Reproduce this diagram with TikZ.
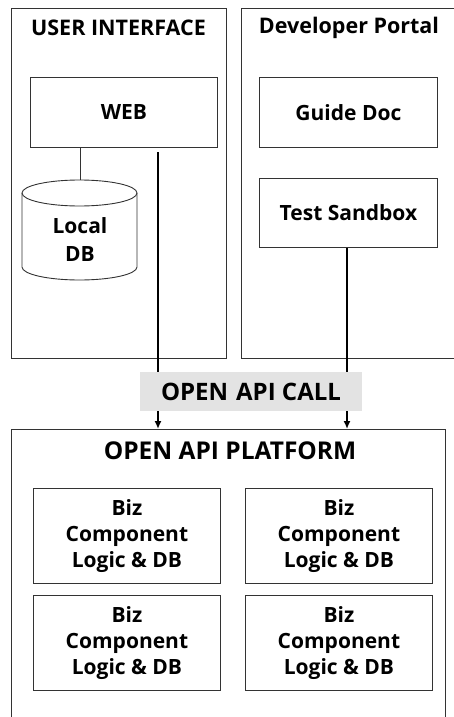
\documentclass[tikz,border=0pt]{standalone}
\usepackage{fontspec}
\setmainfont{Open Sans}
\usetikzlibrary{arrows.meta}
\begin{document}
\begin{tikzpicture}[x=1pt,y=-1pt,
  frame/.style={draw=black!80, line width=0.9pt},
  box/.style={frame, inner sep=0pt, anchor=north west, align=center, font=\bfseries\fontsize{21}{26}\selectfont},
  title/.style={font=\bfseries\fontsize{21.5}{24}\selectfont, inner sep=0pt},
  conn/.style={draw=black, line width=2pt},
  arr/.style={draw=black, line width=1.6pt, -{Latex[length=8pt,width=7pt]}},
  thin/.style={draw=black!80, line width=0.9pt}]
\useasboundingbox (0,0) rectangle (454,717);
% outer frames
\node[box, minimum width=215, minimum height=350] (ui) at (11,8) {};
\node[box, minimum width=230, minimum height=350] (dev) at (241,8) {};
\node[title] (uit) at (118.5,28) {USER INTERFACE};
\node[title] (devt) at (349,28) {Developer Portal};
% inner boxes
\node[box, minimum width=187, minimum height=70] (web) at (30,77) {WEB};
\node[box, minimum width=178, minimum height=70] (guide) at (259,77) {Guide Doc};
\node[box, minimum width=178, minimum height=69] (test) at (259,178) {Test Sandbox};
% cylinder
\draw[thin, fill=white] (22,193) -- (22,267) arc[start angle=180, end angle=0, x radius=57.5, y radius=13] -- (137,193);
\draw[thin] (79.5,193) ellipse[x radius=57.5, y radius=13];
\coordinate (dbtop) at (80,180);
\node[align=center, font=\bfseries\fontsize{21}{28}\selectfont, inner sep=0pt] (db) at (80,240) {Local\\DB};
\draw[thin] (web.south -| dbtop) -- (dbtop);
% open api call
\node[fill=black!11, minimum width=222, minimum height=39, inner sep=0pt, font=\bfseries\fontsize{24}{26}\selectfont] (call) at (251,391.5) {OPEN\,\,API CALL};
% platform
\node[box, minimum width=434, minimum height=300] (plat) at (11,429) {};
\node[title, font=\bfseries\fontsize{24.5}{26}\selectfont] (platt) at (230,451) {OPEN API PLATFORM};
\node[box, minimum width=187, minimum height=95] (b1) at (33,488) {Biz\\Component\\Logic \& DB};
\node[box, minimum width=187, minimum height=95] (b2) at (245,488) {Biz\\Component\\Logic \& DB};
\node[box, minimum width=187, minimum height=95] (b3) at (33,595) {Biz\\Component\\Logic \& DB};
\node[box, minimum width=187, minimum height=95] (b4) at (245,595) {Biz\\Component\\Logic \& DB};
% connectors
\coordinate (wl) at (158,152);
\coordinate (tl) at (347,248);
\draw[conn] (wl) -- (wl |- call.north);
\draw[conn] (tl) -- (tl |- call.north);
\draw[arr] (wl |- call.south) -- (wl |- plat.north);
\draw[arr] (tl |- call.south) -- (tl |- plat.north);
\end{tikzpicture}
\end{document}
